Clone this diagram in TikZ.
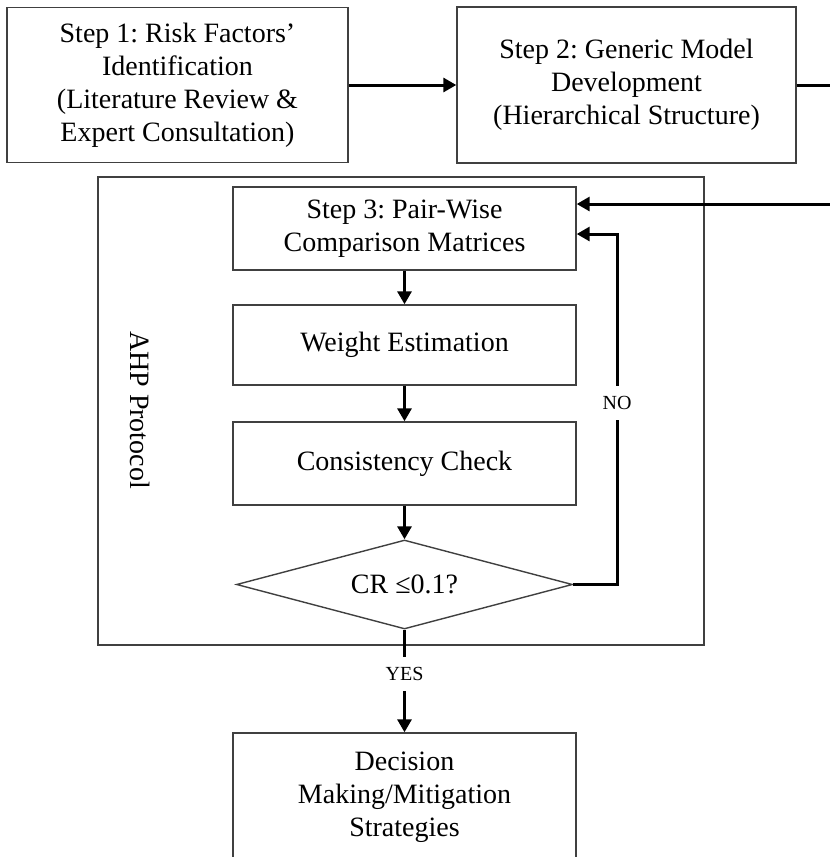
\documentclass[tikz,border=0pt]{standalone}
\usepackage{fontspec}
\setmainfont{Liberation Serif}
\usetikzlibrary{arrows.meta,shapes.geometric}
\frenchspacing
\tikzset{
  box/.style={draw=black!75, line width=1.4pt, align=center, inner sep=0pt,
    font=\fontsize{28}{33}\selectfont},
  thickline/.style={line width=3pt},
  conn/.style={line width=3pt, -{Triangle[length=13pt,width=14pt]}},
  lbl/.style={fill=white, font=\fontsize{20}{22}\selectfont, inner xsep=3pt, inner ysep=10pt},
  sidelbl/.style={font=\fontsize{28}{32}\selectfont, rotate=-90}
}
\begin{document}
\begin{tikzpicture}[x=1pt,y=-1pt]
\useasboundingbox (0,0) rectangle (830,857);
\clip (0,0) rectangle (830,857);
% outer AHP frame
\node[box, minimum width=606, minimum height=468] (ahp) at (401,411) {};
\node[sidelbl] (ahplbl) at (140,410) {AHP Protocol};
% top steps
\node[box, minimum width=341, minimum height=155] (s1) at (177.5,85)
  {Step 1: Risk Factors’\\Identification\\(Literature Review \&\\Expert Consultation)};
\node[box, minimum width=339, minimum height=156] (s2) at (626.5,85)
  {Step 2: Generic Model\\Development\\(Hierarchical Structure)};
% AHP steps
\node[box, minimum width=343, minimum height=83] (s3) at (404.5,228.5)
  {Step 3: Pair-Wise\\Comparison Matrices};
\node[box, minimum width=343, minimum height=80] (we) at (404.5,345) {Weight Estimation};
\node[box, minimum width=343, minimum height=83] (cc) at (404.5,463.5) {Consistency Check};
\node[box, shape=diamond, aspect=3.78, minimum width=336, minimum height=89] (cr) at (404.5,584.5) {CR ≤0.1?};
\node[box, minimum width=343, minimum height=128] (dm) at (404.5,797)
  {Decision\\Making/Mitigation\\Strategies};
% connectors
\coordinate (r1) at (830,85);
\coordinate (r2) at (830,204);
\coordinate (nc) at (617,234);
\draw[conn] (s1.east) -- (s1.east -| s2.west);
\draw[thickline] (s2.east) -- (r1);
\draw[conn] (r2) -- (r2 -| s3.east);
\draw[conn] (s3.south) -- (we.north);
\draw[conn] (we.south) -- (cc.north);
\draw[conn] (cc.south) -- (cr.north);
\draw[conn] (cr.east) -| (nc) -- (nc -| s3.east);
\node[lbl] (no) at (617,403) {NO};
\draw[conn] (cr.south) -- (dm.north);
\node[lbl] (yes) at (404.5,674) {YES};
\end{tikzpicture}
\end{document}
